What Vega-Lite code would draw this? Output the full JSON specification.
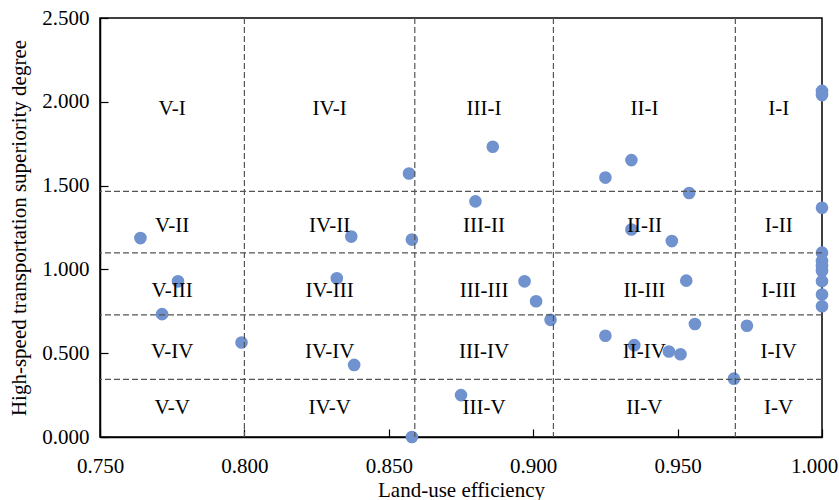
{
  "$schema": "https://vega.github.io/schema/vega-lite/v6.json",
  "width": 722,
  "height": 419,
  "autosize": "none",
  "padding": {"left": 100, "top": 18, "right": 17, "bottom": 63},
  "background": "white",
  "config": {
    "font": "Liberation Serif",
    "view": {"stroke": "black", "strokeWidth": 1.5},
    "axis": {
      "grid": false,
      "domainColor": "black",
      "domainWidth": 1.5,
      "tickColor": "black",
      "tickWidth": 1.2,
      "tickSize": -8,
      "labelFlush": false,
      "labelOverlap": false,
      "labelFont": "Liberation Serif",
      "labelFontSize": 21,
      "labelColor": "black",
      "titleFont": "Liberation Serif",
      "titleFontSize": 21,
      "titleFontWeight": "normal",
      "titleColor": "black"
    }
  },
  "datasets": {
    "pts": [
      {"x": 0.764, "y": 1.187}, {"x": 0.777, "y": 0.929}, {"x": 0.7715, "y": 0.733},
      {"x": 0.799, "y": 0.564}, {"x": 0.837, "y": 1.196}, {"x": 0.832, "y": 0.947},
      {"x": 0.838, "y": 0.430}, {"x": 0.857, "y": 1.572}, {"x": 0.858, "y": 1.178},
      {"x": 0.858, "y": 0.0}, {"x": 0.886, "y": 1.732}, {"x": 0.880, "y": 1.406},
      {"x": 0.875, "y": 0.250}, {"x": 0.897, "y": 0.929}, {"x": 0.901, "y": 0.810},
      {"x": 0.906, "y": 0.699}, {"x": 0.934, "y": 1.652}, {"x": 0.925, "y": 1.548},
      {"x": 0.954, "y": 1.456}, {"x": 0.934, "y": 1.238}, {"x": 0.948, "y": 1.169},
      {"x": 0.953, "y": 0.933}, {"x": 0.956, "y": 0.674}, {"x": 0.925, "y": 0.604},
      {"x": 0.935, "y": 0.548}, {"x": 0.947, "y": 0.510}, {"x": 0.951, "y": 0.494},
      {"x": 0.9695, "y": 0.348}, {"x": 0.974, "y": 0.664}, {"x": 1.0, "y": 2.065},
      {"x": 1.0, "y": 2.04}, {"x": 1.0, "y": 1.368}, {"x": 1.0, "y": 1.10},
      {"x": 1.0, "y": 1.05}, {"x": 1.0, "y": 1.02}, {"x": 1.0, "y": 0.99},
      {"x": 1.0, "y": 0.93}, {"x": 1.0, "y": 0.85}, {"x": 1.0, "y": 0.78}
    ],
    "vlines": [{"x": 0.8}, {"x": 0.859}, {"x": 0.907}, {"x": 0.970}],
    "hlines": [{"y": 1.466}, {"y": 1.099}, {"y": 0.729}, {"y": 0.344}],
    "labels": [
      {"x": 0.775, "y": 1.955, "t": "V-I"}, {"x": 0.8295, "y": 1.955, "t": "IV-I"}, {"x": 0.883, "y": 1.955, "t": "III-I"}, {"x": 0.9385, "y": 1.955, "t": "II-I"}, {"x": 0.985, "y": 1.955, "t": "I-I"},
      {"x": 0.775, "y": 1.261, "t": "V-II"}, {"x": 0.8295, "y": 1.261, "t": "IV-II"}, {"x": 0.883, "y": 1.261, "t": "III-II"}, {"x": 0.9385, "y": 1.261, "t": "II-II"}, {"x": 0.985, "y": 1.261, "t": "I-II"},
      {"x": 0.775, "y": 0.873, "t": "V-III"}, {"x": 0.8295, "y": 0.873, "t": "IV-III"}, {"x": 0.883, "y": 0.873, "t": "III-III"}, {"x": 0.9385, "y": 0.873, "t": "II-III"}, {"x": 0.985, "y": 0.873, "t": "I-III"},
      {"x": 0.775, "y": 0.508, "t": "V-IV"}, {"x": 0.8295, "y": 0.508, "t": "IV-IV"}, {"x": 0.883, "y": 0.508, "t": "III-IV"}, {"x": 0.9385, "y": 0.508, "t": "II-IV"}, {"x": 0.985, "y": 0.508, "t": "I-IV"},
      {"x": 0.775, "y": 0.171, "t": "V-V"}, {"x": 0.8295, "y": 0.171, "t": "IV-V"}, {"x": 0.883, "y": 0.171, "t": "III-V"}, {"x": 0.9385, "y": 0.171, "t": "II-V"}, {"x": 0.985, "y": 0.171, "t": "I-V"}
    ]
  },
  "encoding": {
    "x": {"type": "quantitative"},
    "y": {"type": "quantitative"}
  },
  "layer": [
    {
      "data": {"name": "pts"},
      "mark": {"type": "circle", "size": 160, "color": "#7092cf", "opacity": 1, "clip": false},
      "encoding": {
        "x": {"field": "x", "type": "quantitative", "scale": {"domain": [0.75, 1.0], "nice": false, "zero": false},
          "axis": {"values": [0.75, 0.8, 0.85, 0.9, 0.95, 1.0], "format": ".3f", "title": "Land-use efficiency", "labelPadding": 26, "titlePadding": 3,
            "labelOffset": {"condition": {"test": "datum.value >= 0.999", "value": -8}, "value": 0}}},
        "y": {"field": "y", "type": "quantitative", "scale": {"domain": [0, 2.5], "nice": false, "zero": false},
          "axis": {"values": [0, 0.5, 1, 1.5, 2, 2.5], "format": ".3f", "title": "High-speed transportation superiority degree", "labelPadding": 19, "titlePadding": 12}}
      }
    },
    {
      "data": {"name": "vlines"},
      "mark": {"type": "rule", "color": "#555555", "strokeWidth": 1.2, "strokeDash": [6, 3]},
      "encoding": {"x": {"field": "x", "type": "quantitative"}}
    },
    {
      "data": {"name": "hlines"},
      "mark": {"type": "rule", "color": "#555555", "strokeWidth": 1.2, "strokeDash": [6, 3]},
      "encoding": {"y": {"field": "y", "type": "quantitative"}}
    },
    {
      "data": {"name": "labels"},
      "mark": {"type": "text", "font": "Liberation Serif", "fontSize": 21, "color": "black", "baseline": "middle", "align": "center"},
      "encoding": {
        "x": {"field": "x", "type": "quantitative"},
        "y": {"field": "y", "type": "quantitative"},
        "text": {"field": "t"}
      }
    }
  ]
}
